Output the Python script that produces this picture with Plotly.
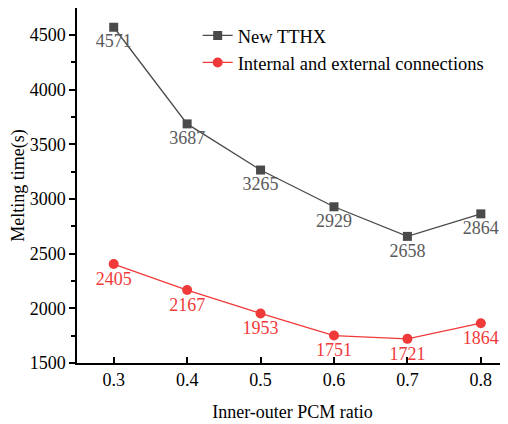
import plotly.graph_objects as go

ratios = [0.3, 0.4, 0.5, 0.6, 0.7, 0.8]
new_tthx = [4571, 3687, 3265, 2929, 2658, 2864]
int_ext = [2405, 2167, 1953, 1751, 1721, 1864]
series_names = ["New TTHX", "Internal and external connections"]

FONT = "Liberation Serif, Times New Roman, serif"
FS = 18

fig = go.Figure()
fig.add_trace(go.Scatter(
    x=ratios, y=new_tthx, name=series_names[0], mode="lines+markers+text",
    line=dict(color="#4a4a4a", width=1.3),
    marker=dict(symbol="square", size=9, color="#4a4a4a"),
    text=[str(v) for v in new_tthx], textposition="bottom center",
    textfont=dict(family=FONT, size=FS, color="#5a5a5a"),
))
fig.add_trace(go.Scatter(
    x=ratios, y=int_ext, name=series_names[1], mode="lines+markers+text",
    line=dict(color="#f03a3a", width=1.3),
    marker=dict(symbol="circle", size=10, color="#f03a3a"),
    text=[str(v) for v in int_ext], textposition="bottom center",
    textfont=dict(family=FONT, size=FS, color="#f03a3a"),
))

# page body has an 8px default margin; figure sized to fill the remaining window
fig.update_layout(
    width=500, height=416,
    margin=dict(l=69, r=0, t=0, b=61),
    paper_bgcolor="white", plot_bgcolor="white",
    font=dict(family=FONT, size=FS, color="black"),
    showlegend=True,
    legend=dict(x=0.28, y=0.975, xanchor="left", yanchor="top",
                bgcolor="rgba(0,0,0,0)", font=dict(family=FONT, size=18.5),
                tracegroupgap=0, itemwidth=30),
    xaxis=dict(
        range=[0.25, 0.837], tickvals=ratios, ticktext=["0.3", "0.4", "0.5", "0.6", "0.7", "0.8"],
        showgrid=False, zeroline=False, showline=True, linecolor="black", linewidth=1.5,
        mirror=True, ticks="inside", ticklen=6, tickcolor="black", tickwidth=1.5,
        automargin=False,
        title=dict(text="Inner-outer PCM ratio", font=dict(family=FONT, size=FS), standoff=16),
        tickfont=dict(family=FONT, size=FS),
    ),
    yaxis=dict(
        range=[1500, 4747], tickvals=[1500, 2000, 2500, 3000, 3500, 4000, 4500],
        showgrid=False, zeroline=False, showline=True, linecolor="black", linewidth=1.5,
        ticks="outside", ticklen=6, tickcolor="black", tickwidth=1.5,
        minor=dict(tickvals=[1750, 2250, 2750, 3250, 3750, 4250], ticks="outside",
                   ticklen=4, tickcolor="black", tickwidth=1.5),
        automargin=False,
        title=dict(text="Melting time(s)", font=dict(family=FONT, size=FS), standoff=0),
        tickfont=dict(family=FONT, size=FS),
    ),
)

fig.write_html("out.html")
